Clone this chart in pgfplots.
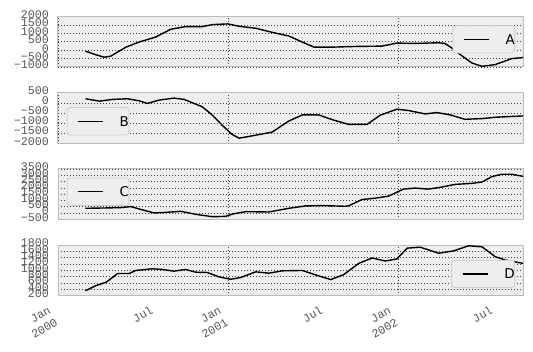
\documentclass[border=0pt]{standalone}
\usepackage{pgfplots}
\pgfplotsset{compat=1.18}
\usepackage{fontspec}
\newfontfamily\tickfont{Liberation Mono}
\newfontfamily\legfont{DejaVu Sans}
\definecolor{bgc}{HTML}{EEEEEE}
\definecolor{edgec}{HTML}{BCBCBC}
\definecolor{tickc}{HTML}{555555}
\definecolor{legedge}{HTML}{CCCCCC}
\pgfplotsset{
  panel/.style={
    scale only axis, width=465bp, height=50.5bp,
    xmin=0, xmax=999,
    anchor=north west,
    scaled ticks=false,
    axis background/.style={fill=bgc},
    axis line style={draw=edgec, line width=1bp},
    major tick length=0pt, minor tick length=0pt,
    xtick={0,366,731},
    extra x ticks={182,547,912},
    extra x tick style={grid=none},
    xticklabels={}, extra x tick labels={},
    grid=major,
    major grid style={draw=black!75, line width=0.55bp, dash pattern=on 0.55bp off 2.45bp},
    tick label style={font=\fontsize{11.7}{14}\selectfont\tickfont, text=tickc},
    yticklabel style={inner sep=0pt, xshift=-9bp, yshift=2bp},
    cycle list={{black, mark=none, line join=round}},
    every axis plot post/.append style={line width=1.4bp},
    legend image code/.code={
      \path[draw=none, fill=none] (-11bp,-13.7bp) rectangle (41.6bp,13.7bp);
      \draw[##1, line width=1.4bp] (0bp,0bp) -- (25bp,0bp);},
    legend style={draw=legedge, fill=bgc, rounded corners=3bp, line width=0.8bp,
      inner xsep=0pt, inner ysep=0pt, nodes={inner sep=0pt, text depth=0pt},
      font=\fontsize{13.5}{16}\selectfont\legfont},
  }
}
\begin{document}
\begin{tikzpicture}
\useasboundingbox (0,0) rectangle (533bp,352bp);
% Panel A
\begin{axis}[panel, at={(58bp,335.5bp)},
  ymin=-1000, ymax=2000, ytick={-1000,-500,...,2000},
  yticklabels={−1000,−500,0,500,1000,1500,2000},
  legend style={at={(0.9834,0.826)}, anchor=north east}]
\addplot coordinates {(59,-60) (80,-260) (99,-420) (113,-360) (130,-80) (146,180) (174,480) (210,780) (242,1240) (274,1400) (310,1400) (332,1520) (365,1560) (389,1420) (425,1300) (460,1060) (496,840) (525,480) (550,180) (589,180) (639,220) (696,240) (728,420) (767,400) (817,440) (831,400) (845,150) (864,-260) (889,-760) (911,-960) (939,-860) (975,-500) (999,-440)};
\addlegendentry{A\hspace{6.6bp}}
\end{axis}
% Panel B
\begin{axis}[panel, at={(58bp,259.3bp)},
  ymin=-2000, ymax=500, ytick={-2000,-1500,...,500},
  yticklabels={−2000,−1500,−1000,−500,0,500},
  legend style={at={(0.0187,0.156)}, anchor=south west}]
\addplot coordinates {(59,200) (89,83) (117,167) (149,200) (174,100) (192,-33) (217,133) (249,233) (271,167) (310,-200) (332,-617) (353,-1117) (374,-1567) (389,-1750) (410,-1667) (460,-1450) (496,-900) (525,-600) (560,-600) (589,-833) (624,-1067) (664,-1067) (692,-617) (728,-317) (753,-383) (789,-550) (814,-483) (843,-600) (874,-817) (911,-783) (939,-717) (999,-650)};
\addlegendentry{B\hspace{6.6bp}}
\end{axis}
% Panel C
\begin{axis}[panel, at={(58bp,183.1bp)},
  ymin=-500, ymax=3500, ytick={-500,0,...,3500},
  yticklabels={−500,0,500,1000,1500,2000,2500,3000,3500},
  legend style={at={(0.0187,0.826)}, anchor=north west}]
\addplot coordinates {(59,380) (103,407) (135,433) (157,513) (174,327) (207,7) (232,60) (264,140) (296,-100) (332,-287) (360,-260) (375,-73) (403,113) (453,87) (496,380) (532,567) (567,593) (617,540) (624,567) (653,1073) (681,1180) (710,1340) (742,1900) (767,1980) (796,1900) (824,2060) (853,2273) (889,2353) (911,2460) (932,2887) (953,3073) (975,3073) (999,2913)};
\addlegendentry{C\hspace{6.6bp}}
\end{axis}
% Panel D
\begin{axis}[panel, at={(58bp,106.9bp)},
  ymin=200, ymax=1800, ytick={200,400,...,1800},
  yticklabels={200,400,600,800,1000,1200,1400,1600,1800},
  xticklabels={Jan\\2000,Jan\\2001,Jan\\2002},
  xticklabel style={xshift=-17bp, yshift=-27bp, rotate=30, anchor=center, align=right},
  extra x tick labels={Jul,Jul,Jul},
  extra x tick style={grid=none, xticklabel style={xshift=18.7bp, yshift=-1.6bp}},
  legend style={at={(0.983,0.15)}, anchor=south east}]
\addplot coordinates {(59,353) (81,514) (103,621) (114,739) (128,900) (153,900) (167,996) (203,1049) (224,1028) (249,974) (274,1028) (296,942) (321,932) (346,792) (371,717) (392,771) (425,953) (453,910) (482,985) (525,996) (553,857) (586,707) (614,867) (646,1221) (675,1392) (703,1296) (728,1360) (750,1703) (778,1735) (818,1542) (850,1617) (882,1778) (911,1746) (939,1435) (960,1330) (983,1264) (999,1221)};
\addlegendentry{D\hspace{6.6bp}}
\end{axis}
\end{tikzpicture}
\end{document}
